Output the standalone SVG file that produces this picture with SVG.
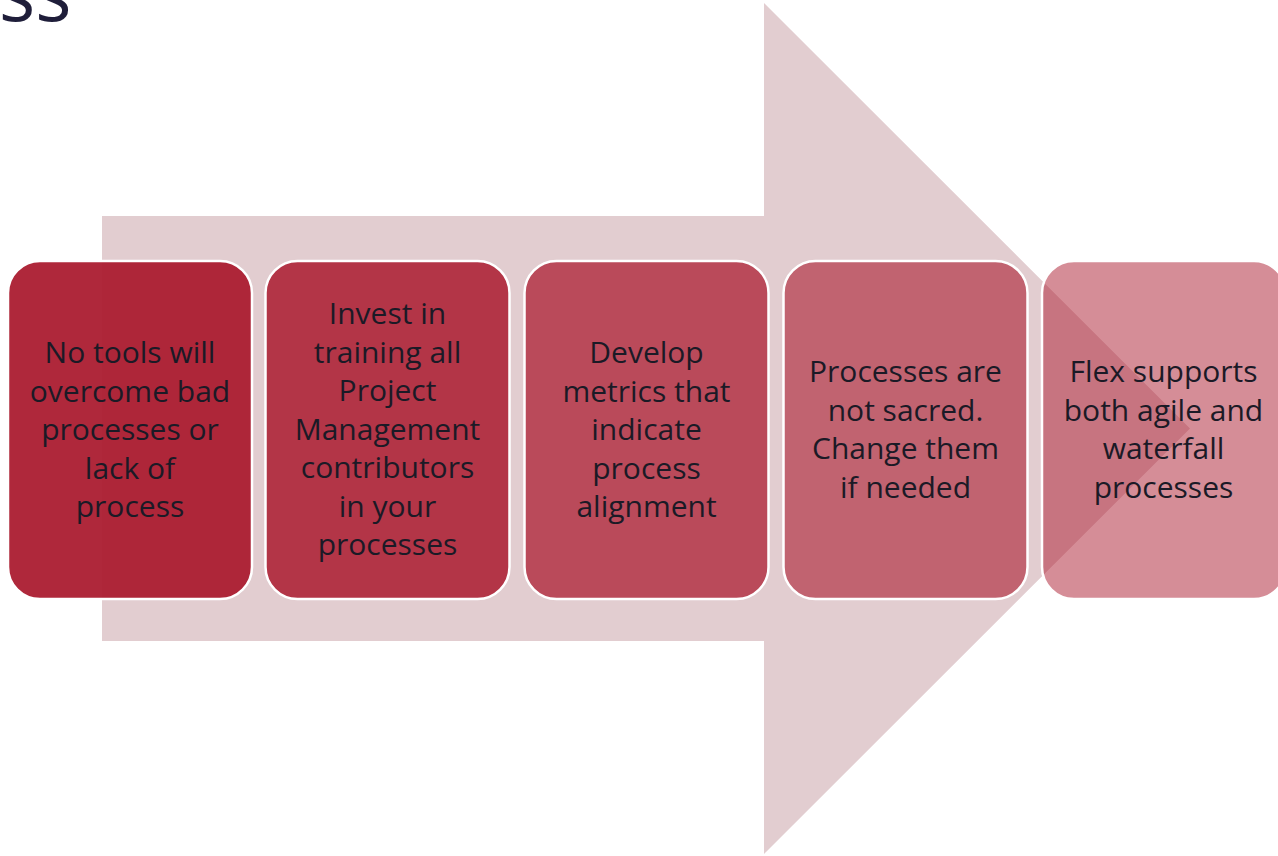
<svg xmlns="http://www.w3.org/2000/svg" width="1278" height="856" viewBox="0 0 1278 856">
<style>
.box{stroke:#FFFFFF;stroke-width:2.5}
.t{font-family:"Open Sans","Noto Sans",sans-serif;font-size:30px;fill:#1B1A26;text-anchor:middle}
.title{font-family:"Open Sans","Noto Sans",sans-serif;font-size:76px;fill:#1F1E3A}
</style>
<rect width="1278" height="856" fill="#FFFFFF"/>
<text class="title" x="-1" y="21">ss</text>
<g id="connectors">
<path d="M102,216 H764 V3 L1190,428.5 L764,854 V641 H102 Z" fill="#E2CDD0"/>
</g>
<g id="node1">
<rect class="box" x="8" y="261" width="244" height="338" rx="32" fill="#AB1C30" fill-opacity="0.95"/>
<text class="t"><tspan x="130" y="363">No tools will</tspan><tspan x="130" y="401.5">overcome bad</tspan><tspan x="130" y="440">processes or</tspan><tspan x="130" y="478.5">lack of</tspan><tspan x="130" y="517">process</tspan></text>
</g>
<g id="node2">
<rect class="box" x="265.5" y="261" width="244" height="338" rx="32" fill="#AB1C30" fill-opacity="0.86"/>
<text class="t"><tspan x="387.5" y="324">Invest in</tspan><tspan x="387.5" y="362.5">training all</tspan><tspan x="387.5" y="401">Project</tspan><tspan x="387.5" y="439.5">Management</tspan><tspan x="387.5" y="478">contributors</tspan><tspan x="387.5" y="516.5">in your</tspan><tspan x="387.5" y="555">processes</tspan></text>
</g>
<g id="node3">
<rect class="box" x="524.5" y="261" width="244" height="338" rx="32" fill="#AB1C30" fill-opacity="0.74"/>
<text class="t"><tspan x="646.5" y="363">Develop</tspan><tspan x="646.5" y="401.5">metrics that</tspan><tspan x="646.5" y="440">indicate</tspan><tspan x="646.5" y="478.5">process</tspan><tspan x="646.5" y="517">alignment</tspan></text>
</g>
<g id="node4">
<rect class="box" x="783.5" y="261" width="244" height="338" rx="32" fill="#AB1C30" fill-opacity="0.6"/>
<text class="t"><tspan x="905.5" y="382">Processes are</tspan><tspan x="905.5" y="420.5">not sacred.</tspan><tspan x="905.5" y="459">Change them</tspan><tspan x="905.5" y="497.5">if needed</tspan></text>
</g>
<g id="node5">
<rect class="box" x="1042" y="261" width="244" height="338" rx="32" fill="#AB1C30" fill-opacity="0.5"/>
<text class="t"><tspan x="1163.5" y="382">Flex supports</tspan><tspan x="1163.5" y="420.5">both agile and</tspan><tspan x="1163.5" y="459">waterfall</tspan><tspan x="1163.5" y="497.5">processes</tspan></text>
</g>
</svg>
